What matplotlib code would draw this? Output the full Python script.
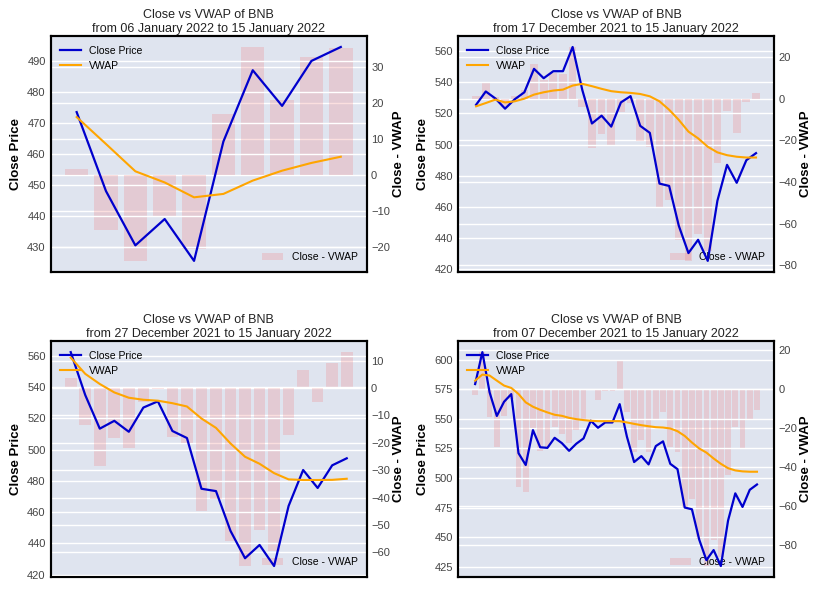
import matplotlib.pyplot as plt

# ===========================
# Data
# ===========================
# daily close of BNB, 07 Dec 2021 .. 15 Jan 2022
close = [579.5, 606.5, 572.5, 552.5, 564.5, 571.0, 521.0, 511.0, 540.5, 526.0,
         525.5, 534.0, 529.5, 523.0, 529.0, 533.5, 548.5, 542.5, 547.0, 547.0,
         562.5, 535.0, 513.5, 518.5, 511.5, 527.0, 531.0, 512.0, 507.5, 475.0,
         473.5, 448.0, 430.5, 439.0, 425.5, 464.0, 487.0, 475.5, 490.0, 494.5]

# VWAP of each window (cumulative from the window start)
vwap_jan06 = [471.9, 463.2, 454.4, 450.8, 446.0, 447.1, 451.4, 454.6, 457.1, 459.1]

vwap_dec17 = [524.5, 526.6, 528.8, 527.0, 527.7, 529.4, 532.0, 533.5, 534.6, 535.2,
              537.8, 538.9, 537.4, 535.7, 534.2, 533.5, 533.1, 532.4, 530.9, 527.7,
              522.3, 515.8, 508.3, 504.0, 498.6, 495.0, 493.2, 492.2, 491.7, 491.7]

vwap_dec27 = [559.0, 548.6, 542.1, 536.7, 533.3, 532.0, 531.4, 529.8, 527.7, 520.0,
              514.0, 504.0, 495.5, 491.0, 485.0, 481.0, 480.6, 480.6, 480.7, 481.4]

vwap_dec07 = [582.4, 587.5, 586.7, 582.4, 578.2, 576.2, 571.1, 564.0, 560.3, 557.7,
              555.5, 553.5, 552.6, 550.9, 549.8, 549.0, 548.4, 548.1, 548.1, 548.1,
              548.1, 547.0, 545.8, 544.7, 543.8, 543.0, 542.7, 541.9, 539.6, 535.6,
              530.0, 525.0, 521.5, 516.5, 512.0, 508.3, 506.4, 505.6, 505.3, 505.3]

start_labels = ["06 January 2022", "17 December 2021", "27 December 2021", "07 December 2021"]
end_label = "15 January 2022"
vwaps = [vwap_jan06, vwap_dec17, vwap_dec27, vwap_dec07]

BG = "#dfe4ef"

# ===========================
# Style
# ===========================
plt.rcParams.update({
    "font.family": ["Liberation Sans", "DejaVu Sans"],
    "axes.facecolor": BG,
    "axes.edgecolor": "black",
    "axes.linewidth": 1.5,
    "axes.grid": True,
    "axes.axisbelow": True,
    "grid.color": "white",
    "grid.linewidth": 1.0,
    "ytick.major.size": 0,
    "xtick.major.size": 0,
    "ytick.labelcolor": "#444444",
    "ytick.labelsize": 8,
    "legend.frameon": False,
    "legend.fontsize": 7.5,
})

fig, axes = plt.subplots(2, 2, figsize=(8.15, 6.11), dpi=100)
fig.subplots_adjust(left=0.062, right=0.95, top=0.9406, bottom=0.0561,
                    wspace=0.2875, hspace=0.297)

for ax, start, vwap in zip(axes.flat, start_labels, vwaps):
    c = close[len(close) - len(vwap):]
    diff = [a - b for a, b in zip(c, vwap)]
    x = range(len(c))

    ax2 = ax.twinx()
    ax2.patch.set_visible(True)
    ax2.set_facecolor(BG)
    ax2.bar(x, diff, color="lightcoral", alpha=0.25, label="Close - VWAP")
    ax2.set_ylabel("Close - VWAP", fontsize=9.5, fontweight="bold", labelpad=2)
    ax2.tick_params(axis="y", pad=3)
    ax2.legend(loc="lower right")

    ax.plot(x, c, color="mediumblue", lw=1.6, label="Close Price")
    ax.plot(x, vwap, color="orange", lw=1.5, label="VWAP")
    ax.set_zorder(ax2.get_zorder() + 1)
    ax.patch.set_visible(False)
    ax.set_ylabel("Close Price", fontsize=9.5, fontweight="bold")
    ax.set_xticks([])
    ax.legend(loc="upper left")
    ax.set_title(f"Close vs VWAP of BNB\nfrom {start} to {end_label}",
                 fontsize=9, color="#222222", pad=3)

fig.savefig("out.png", dpi=100)
